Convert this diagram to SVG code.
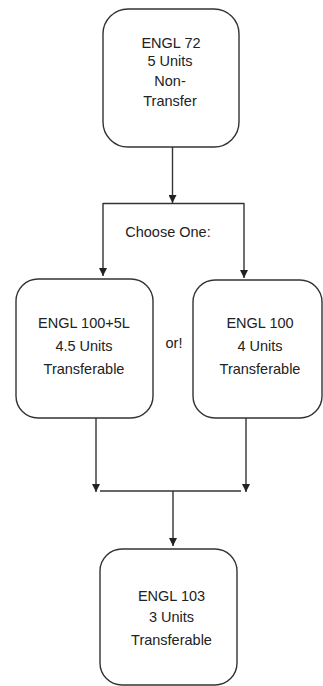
<svg xmlns="http://www.w3.org/2000/svg" width="323" height="686" viewBox="0 0 323 686">
<style>
.box{fill:#fff;stroke:#333;stroke-width:1.4}
.ln{fill:none;stroke:#333;stroke-width:1.4}
text{font-family:"Liberation Sans",Arial,sans-serif;font-size:14.5px;fill:#222;text-anchor:middle}
</style>
<defs>
<marker id="arr" viewBox="0 0 10 10" refX="10" refY="5" markerWidth="8" markerHeight="8" markerUnits="userSpaceOnUse" orient="auto">
<path d="M0,0 L10,5 L0,10 z" fill="#222"/>
</marker>
</defs>
<rect width="323" height="686" fill="#fff"/>
<g id="connectors">
<line class="ln" x1="172.5" y1="147" x2="172.5" y2="203" marker-end="url(#arr)"/>
<line class="ln" x1="103" y1="203.5" x2="244" y2="203.5"/>
<line class="ln" x1="103" y1="203" x2="103" y2="276" marker-end="url(#arr)"/>
<line class="ln" x1="244" y1="203" x2="244" y2="278" marker-end="url(#arr)"/>
<line class="ln" x1="96" y1="418" x2="96" y2="492" marker-end="url(#arr)"/>
<line class="ln" x1="246" y1="418" x2="246" y2="492" marker-end="url(#arr)"/>
<line class="ln" x1="100" y1="491" x2="241" y2="491"/>
<line class="ln" x1="173" y1="491" x2="173" y2="546" marker-end="url(#arr)"/>
</g>
<g id="engl72">
<rect class="box" x="103" y="9" width="136" height="138" rx="25"/>
<text x="171" y="48">ENGL 72</text>
<text x="170" y="66">5 Units</text>
<text x="170" y="86">Non-</text>
<text x="170" y="106">Transfer</text>
</g>
<text id="choose" x="168" y="237">Choose One:</text>
<g id="engl100_5l">
<rect class="box" x="16" y="279" width="137" height="139" rx="22"/>
<text x="84" y="328">ENGL 100+5L</text>
<text x="84" y="351">4.5 Units</text>
<text x="84" y="374">Transferable</text>
</g>
<text id="or" x="174" y="348">or!</text>
<g id="engl100">
<rect class="box" x="193" y="280" width="129" height="138" rx="22"/>
<text x="260" y="328">ENGL 100</text>
<text x="260" y="351">4 Units</text>
<text x="260" y="374">Transferable</text>
</g>
<g id="engl103">
<rect class="box" x="100" y="549" width="137" height="136" rx="22"/>
<text x="171.5" y="601">ENGL 103</text>
<text x="171.5" y="622">3 Units</text>
<text x="171.5" y="645">Transferable</text>
</g>
</svg>
